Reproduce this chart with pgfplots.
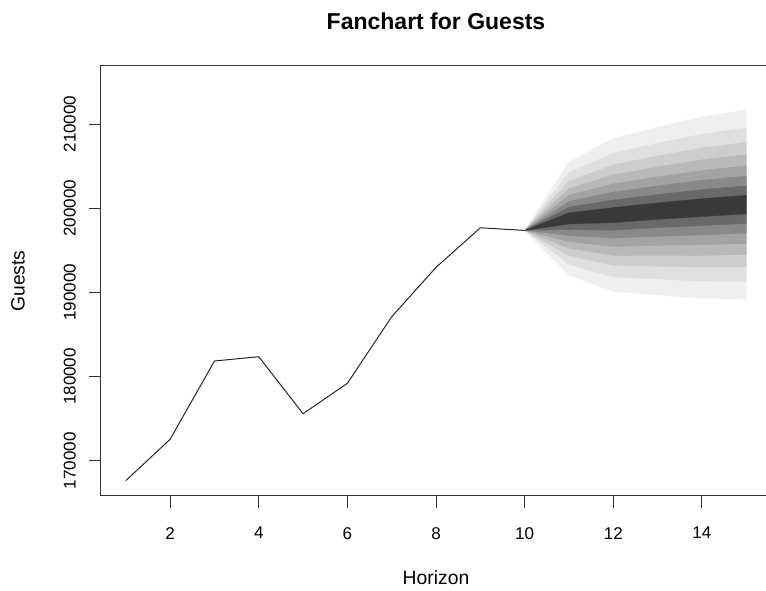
\documentclass[border=0pt]{standalone}
\usepackage{fontspec}
\setmainfont{Liberation Sans}
\usepackage{pgfplots}
\pgfplotsset{compat=1.18}

% fan shades, darkest for the 10% interval out to the 80% interval
\definecolor{fan10}{gray}{0.2236}
\definecolor{fan20}{gray}{0.4108}
\definecolor{fan30}{gray}{0.5362}
\definecolor{fan40}{gray}{0.6374}
\definecolor{fan50}{gray}{0.7246}
\definecolor{fan60}{gray}{0.8023}
\definecolor{fan70}{gray}{0.8732}
\definecolor{fan80}{gray}{0.9387}

\begin{document}
\begin{tikzpicture}
\begin{axis}[
  name=ax,
  scale only axis,
  width=670pt, height=430pt,
  xmin=0.44, xmax=15.56,
  ymin=165800, ymax=216900,
  axis line style={line width=1pt, black!80},
  tick align=outside,
  tick pos=left,
  major tick length=12pt,
  tick style={line width=1pt, black!80},
  xtick={2,4,...,14},
  ytick={170000,180000,...,210000},
  scaled y ticks=false,
  /pgf/number format/.cd, fixed, 1000 sep={}, assume math mode=true,
  /pgfplots/.cd,
  tick label style={font=\fontsize{17}{20}\selectfont},
  xticklabel style={anchor=north, inner sep=0pt, yshift=-19pt},
  yticklabel style={xshift=-13pt, rotate=90, anchor=south, inner sep=0pt},
  xlabel={Horizon},
  ylabel={Guests},
  every axis x label/.style={at={(axis description cs:0.5,0)}, anchor=center,
    yshift=-82pt, font=\fontsize{19.3}{23}\selectfont},
  every axis y label/.style={at={(axis description cs:0,0.5)}, anchor=center,
    xshift=-83pt, rotate=90, font=\fontsize{19.3}{23}\selectfont},
  title={Fanchart for Guests},
  every axis title/.style={at={(axis description cs:0.5,1)}, anchor=center,
    yshift=45pt, font=\fontsize{23}{27}\selectfont\bfseries},
]

% 80% interval
\addplot[fill=fan80, draw=fan80, line width=0.3pt] coordinates {
  (10,197363) (11,205514) (12,208282) (13,209624) (14,210861) (15,211704)
  (15,189148) (14,189279) (13,189686) (12,190078) (11,192060)} -- cycle;
% 70% interval
\addplot[fill=fan70, draw=fan70, line width=0.3pt] coordinates {
  (10,197363) (11,204227) (12,206541) (13,207717) (14,208797) (15,209547)
  (15,191305) (14,191343) (13,191593) (12,191819) (11,193347)} -- cycle;
% 60% interval
\addplot[fill=fan60, draw=fan60, line width=0.3pt] coordinates {
  (10,197363) (11,203205) (12,205157) (13,206202) (14,207156) (15,207832)
  (15,193020) (14,192984) (13,193108) (12,193203) (11,194369)} -- cycle;
% 50% interval
\addplot[fill=fan50, draw=fan50, line width=0.3pt] coordinates {
  (10,197363) (11,202327) (12,203970) (13,204902) (14,205749) (15,206362)
  (15,194490) (14,194391) (13,194408) (12,194390) (11,195247)} -- cycle;
% 40% interval
\addplot[fill=fan40, draw=fan40, line width=0.3pt] coordinates {
  (10,197363) (11,201540) (12,202904) (13,203734) (14,204485) (15,205041)
  (15,195811) (14,195655) (13,195576) (12,195456) (11,196034)} -- cycle;
% 30% interval
\addplot[fill=fan30, draw=fan30, line width=0.3pt] coordinates {
  (10,197363) (11,200810) (12,201917) (13,202652) (14,203314) (15,203817)
  (15,197035) (14,196826) (13,196658) (12,196443) (11,196764)} -- cycle;
% 20% interval
\addplot[fill=fan20, draw=fan20, line width=0.3pt] coordinates {
  (10,197363) (11,200117) (12,200979) (13,201626) (14,202203) (15,202655)
  (15,198197) (14,197937) (13,197684) (12,197381) (11,197457)} -- cycle;
% 10% interval
\addplot[fill=fan10, draw=fan10, line width=0.3pt] coordinates {
  (10,197363) (11,199447) (12,200072) (13,200633) (14,201128) (15,201532)
  (15,199320) (14,199012) (13,198677) (12,198288) (11,198127)} -- cycle;

% observed series
\addplot[black!85, line width=1pt] coordinates {
  (1,167625) (2,172541) (3,181841) (4,182352) (5,175582)
  (6,179192) (7,187102) (8,192969) (9,197672) (10,197363)};
\end{axis}
\pgfresetboundingbox
\path ([shift={(-101pt,-95pt)}]ax.south west) rectangle ([shift={(665pt,496pt)}]ax.south west);
\end{tikzpicture}
\end{document}
